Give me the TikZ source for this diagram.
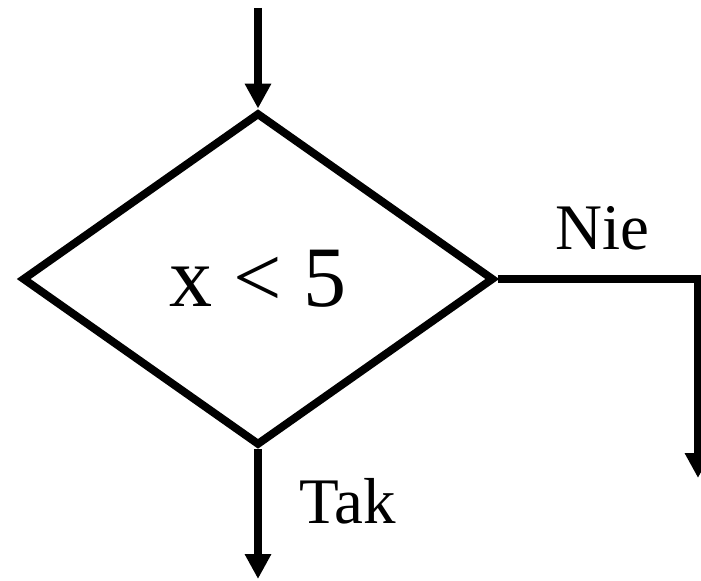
\documentclass[tikz,border=0pt]{standalone}
\usepackage{fontspec}
\setmainfont{Liberation Serif}
\usetikzlibrary{shapes.geometric,arrows.meta,positioning}

\begin{document}
\begin{tikzpicture}[x=0.02cm, y=-0.02cm,
      decision/.style={draw, diamond, line width=4.5pt, inner sep=0pt, minimum width=9.44cm, minimum height=6.66cm, font=\fontsize{49}{51}\selectfont},
      lbl/.style={anchor=base, font=\fontsize{37}{39}\selectfont},
      arr/.style={line width=4.5pt, -{Triangle[length=0.5cm, width=0.5cm]}}
    ]
    \useasboundingbox (0,0) rectangle (701,581);
    \node[decision] (cond) at (258,279) {\raisebox{-0.12cm}{x < 5}};
    \coordinate (entry) at (258,8);
    \coordinate (yesend) at (258,579);
    \coordinate (noend) at (698,478);
    \node[lbl] (no) at (602,250) {Nie};
    \node[lbl] (yes) at (348,523) {Tak};
    \draw[arr] (entry) -- (cond.north);
    \draw[arr] (cond.south) -- (yesend);
    \draw[arr] (cond.east) -| (noend);
  \end{tikzpicture}
\end{document}
